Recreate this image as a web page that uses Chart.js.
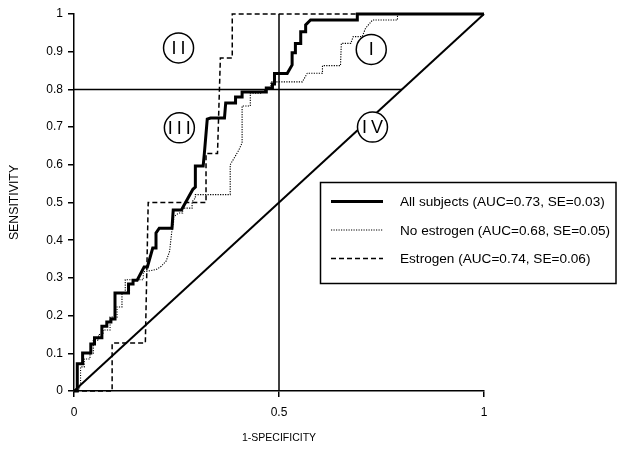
<!DOCTYPE html>
<html><head><meta charset="utf-8">
<script src="https://cdn.jsdelivr.net/npm/chart.js@4.4.1/dist/chart.umd.min.js"></script>
<style>html,body{margin:0;padding:0;background:#fff;}#wrap{width:617px;height:452px;position:relative;}</style>
</head><body><div id="wrap"><canvas id="c" width="617" height="452"></canvas></div>
<script>
// ---- data ----
const allFpr = [0,0.008,0.008,0.021,0.021,0.041,0.041,0.050,0.050,0.068,0.068,0.080,0.080,0.090,0.090,0.100,0.100,0.133,0.133,0.144,0.144,0.154,0.171,0.179,0.192,0.200,0.200,0.208,0.239,0.242,0.262,0.290,0.296,0.296,0.315,0.318,0.325,0.333,0.367,0.370,0.394,0.394,0.410,0.410,0.469,0.469,0.484,0.484,0.489,0.489,0.520,0.532,0.532,0.540,0.540,0.553,0.553,0.565,0.565,0.577,0.691,0.691,1.0];
const allTpr = [0,0,0.072,0.072,0.101,0.101,0.125,0.125,0.141,0.141,0.172,0.172,0.183,0.183,0.191,0.191,0.260,0.260,0.284,0.284,0.294,0.294,0.329,0.329,0.379,0.379,0.419,0.432,0.432,0.480,0.480,0.535,0.541,0.597,0.597,0.631,0.721,0.724,0.724,0.764,0.764,0.780,0.780,0.793,0.793,0.804,0.804,0.814,0.814,0.842,0.842,0.865,0.897,0.897,0.922,0.922,0.953,0.953,0.971,0.984,0.984,1.0,1.0];

const noEstFpr = [0,0.012,0.016,0.016,0.025,0.025,0.039,0.039,0.047,0.047,0.060,0.060,0.071,0.071,0.088,0.088,0.105,0.105,0.117,0.117,0.125,0.125,0.169,0.169,0.200,0.212,0.225,0.233,0.239,0.243,0.243,0.255,0.265,0.265,0.288,0.288,0.296,0.296,0.381,0.381,0.402,0.410,0.410,0.430,0.430,0.455,0.469,0.480,0.480,0.557,0.569,0.606,0.606,0.650,0.652,0.675,0.681,0.703,0.711,0.728,0.789,0.789];
const noEstTpr = [0,0,0.020,0.064,0.064,0.085,0.085,0.100,0.100,0.135,0.135,0.150,0.150,0.162,0.162,0.196,0.196,0.223,0.223,0.260,0.260,0.295,0.295,0.316,0.322,0.330,0.345,0.370,0.427,0.449,0.462,0.472,0.472,0.485,0.485,0.502,0.512,0.521,0.521,0.600,0.639,0.658,0.756,0.756,0.790,0.790,0.800,0.800,0.820,0.820,0.843,0.843,0.863,0.863,0.922,0.922,0.940,0.940,0.962,0.984,0.984,0.997];

const estFpr = [0,0.093,0.093,0.174,0.181,0.322,0.322,0.350,0.357,0.386,0.386,1.0];
const estTpr = [0,0,0.127,0.127,0.500,0.500,0.630,0.630,0.883,0.883,1.0,1.0];

const diagFpr = [0,1];       const diagTpr = [0,1];
const cutHFpr = [0,0.8];     const cutHTpr = [0.8,0.8];
const cutVFpr = [0.5,0.5];   const cutVTpr = [0,1];

const xTicks = [0,0.5,1];
const xTickLabels = ['0','0.5','1'];
const yTicks = [0,0.1,0.2,0.3,0.4,0.5,0.6,0.7,0.8,0.9,1];
const yTickLabels = ['0','0.1','0.2','0.3','0.4','0.5','0.6','0.7','0.8','0.9','1'];

const seriesNames = ['All subjects (AUC=0.73, SE=0.03)','No estrogen (AUC=0.68, SE=0.05)','Estrogen (AUC=0.74, SE=0.06)'];
const regionLabels = ['I','II','III','IV'];
const regionX = [0.725,0.255,0.257,0.728];
const regionY = [0.906,0.910,0.698,0.700];

const xTitle = '1-SPECIFICITY';
const yTitle = 'SENSITIVITY';

// ---- helpers ----
const pts = (xs, ys) => xs.map((v,i)=>({x:v, y:ys[i]}));
const FONT = '"Liberation Sans", Arial, Helvetica, sans-serif';

const lineStyles = [
  {borderWidth:3, borderDash:[]},
  {borderWidth:1.1, borderDash:[1.2,1.3]},
  {borderWidth:1.5, borderDash:[5,3]}
];

const overlay = {
  id:'overlay',
  afterDatasetsDraw(chart){
    const {ctx, scales:{x,y}} = chart;
    ctx.save();
    regionLabels.forEach((t,i)=>{
      const cx = x.getPixelForValue(regionX[i]);
      const cy = y.getPixelForValue(regionY[i]);
      ctx.beginPath(); ctx.arc(cx,cy,15,0,Math.PI*2);
      ctx.fillStyle='#fff'; ctx.fill();
      ctx.lineWidth=1.5; ctx.strokeStyle='#000'; ctx.setLineDash([]); ctx.stroke();
      ctx.font = '18px ' + FONT;
      ctx.textAlign='center'; ctx.textBaseline='middle'; ctx.fillStyle='#000';
      const sp = 4;
      try { ctx.letterSpacing = sp + 'px'; } catch(e) {}
      ctx.fillText(t, cx + sp/2, cy + 1);
      try { ctx.letterSpacing = '0px'; } catch(e) {}
    });
    // legend box
    const bx = 320.5, by = 182.5, bw = 295.5, bh = 101;
    ctx.fillStyle='#fff'; ctx.fillRect(bx,by,bw,bh);
    ctx.lineWidth=1.5; ctx.strokeStyle='#000'; ctx.setLineDash([]);
    ctx.strokeRect(bx,by,bw,bh);
    const rows = [201.5, 230, 258.5];
    seriesNames.forEach((name,i)=>{
      const st = lineStyles[i];
      ctx.beginPath();
      ctx.lineWidth = st.borderWidth;
      ctx.setLineDash(st.borderDash);
      ctx.moveTo(331, rows[i]); ctx.lineTo(383, rows[i]);
      ctx.stroke();
      ctx.setLineDash([]);
      ctx.font = '13.6px ' + FONT;
      ctx.textAlign='left'; ctx.textBaseline='middle'; ctx.fillStyle='#000';
      ctx.fillText(name, 400, rows[i] + 1);
    });
    ctx.restore();
  }
};

const mk = (label, data, style, order) => Object.assign({
  label, data, borderColor:'#000', backgroundColor:'#000', pointRadius:0, pointHoverRadius:0,
  tension:0, fill:false, clip:false, order, borderCapStyle:'butt', borderJoinStyle:'miter'
}, style);

new Chart(document.getElementById('c'), {
  type:'line',
  data:{ datasets:[
    mk(seriesNames[0], pts(allFpr, allTpr), lineStyles[0], 0),
    mk(seriesNames[1], pts(noEstFpr, noEstTpr), lineStyles[1], 2),
    mk(seriesNames[2], pts(estFpr, estTpr), lineStyles[2], 1),
    mk('diag', pts(diagFpr, diagTpr), {borderWidth:2}, 3),
    mk('cutH', pts(cutHFpr, cutHTpr), {borderWidth:1.5}, 4),
    mk('cutV', pts(cutVFpr, cutVTpr), {borderWidth:1.5}, 5)
  ]},
  options:{
    responsive:false, animation:false, devicePixelRatio:1,
    layout:{padding:{left:0, right:133, top:14, bottom:0}},
    plugins:{legend:{display:false}, tooltip:{enabled:false}},
    scales:{
      x:{
        type:'linear', min:0, max:1,
        afterBuildTicks: s => { s.ticks = xTicks.map(v=>({value:v})); },
        afterFit: s => { s.height = 61; },
        ticks:{ callback:(v,i)=>xTickLabels[i], color:'#000', font:{family:FONT, size:12}, padding:8, maxRotation:0, autoSkip:false },
        grid:{ drawOnChartArea:false, drawTicks:true, tickLength:6, color:'#000', lineWidth:1.5 },
        border:{ display:true, color:'#000', width:1.5 },
        title:{ display:true, text:xTitle, color:'#000', font:{family:FONT, size:10.5}, padding:{top:0, bottom:8} }
      },
      y:{
        type:'linear', min:0, max:1,
        afterBuildTicks: s => { s.ticks = yTicks.map(v=>({value:v})); },
        afterFit: s => { s.width = 74; },
        ticks:{ callback:(v,i)=>yTickLabels[i], color:'#000', font:{family:FONT, size:12}, padding:5, autoSkip:false },
        grid:{ drawOnChartArea:false, drawTicks:true, tickLength:6, color:'#000', lineWidth:1.5 },
        border:{ display:true, color:'#000', width:1.5 },
        title:{ display:true, text:yTitle, color:'#000', font:{family:FONT, size:12.3}, padding:{top:7.5, bottom:0} }
      }
    }
  },
  plugins:[overlay]
});
</script></body></html>
